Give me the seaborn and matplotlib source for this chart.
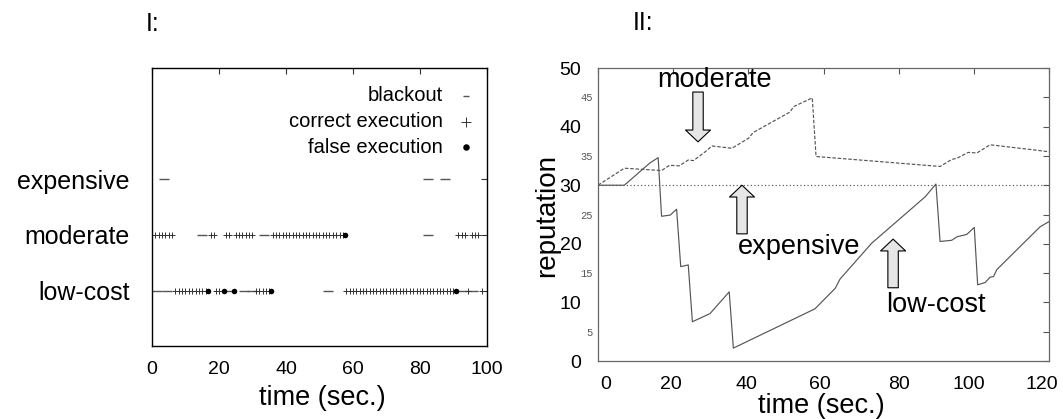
import matplotlib
matplotlib.use("Agg")
import matplotlib.pyplot as plt
import matplotlib.transforms as mtransforms
import numpy as np
import pandas as pd
import seaborn as sns
from matplotlib.ticker import FixedLocator, FixedFormatter

# ---- Panel I: service events per provider class (time in seconds) ----
classes = ["low-cost", "moderate", "expensive"]
class_pos = [1, 2, 3]

lowcost_blackout = [1.5, 4.5, 23.0, 27.5, 30.0, 52.5, 93.0, 96.0]
lowcost_correct = [7, 8, 9, 10, 11, 12, 13, 14, 15, 16, 19, 20,
                   31, 32, 33, 34, 35,
                   58, 59, 60, 61, 62, 63, 64, 65, 66, 67, 68, 69, 70, 71, 72,
                   73, 74, 75, 76, 77, 78, 79, 80, 81, 82, 83, 84, 85, 86, 87,
                   88, 89, 90, 94.5, 98.5]
lowcost_false = [16.8, 21.5, 24.6, 35.5, 90.7]

moderate_blackout = [14.8, 33.5, 82.5]
moderate_correct = [1, 2, 3, 4, 5, 6, 17.5, 18.5, 22, 23,
                    25, 26, 27, 28, 29, 30,
                    36, 37, 38, 39, 40, 41, 42, 43, 44, 45, 46, 47, 48, 49,
                    50, 51, 52, 53, 54, 55, 56, 57,
                    91.5, 92.5, 93.5, 95.5, 96.5, 97.5]
moderate_false = [57.7]

expensive_blackout = [3.5, 82.5, 87.5]
expensive_correct = []
expensive_false = []

# ---- Panel II: reputation over time ----
lowcost_t = [0, 7.0, 13.8, 16.0, 16.9, 19.2, 20.9, 22.0, 24.0, 25.1, 29.8,
             34.9, 36.0, 57.7, 63.1, 64.4, 72.8, 87.0, 89.9, 91.0, 94.1,
             95.5, 98.1, 100.1, 101.0, 103.0, 104.3, 105.2, 106.1, 117.6, 120]
lowcost_rep = [30, 30, 33.8, 34.7, 24.7, 24.9, 25.9, 16.1, 16.4, 6.7, 8.1,
               11.8, 2.2, 8.9, 12.4, 14.0, 20.1, 28.0, 30.2, 20.4, 20.6,
               21.2, 21.6, 22.8, 13.0, 13.4, 14.3, 14.4, 15.6, 22.9, 23.8]

moderate_t = [0, 7.0, 16.9, 19.0, 21.6, 24.0, 25.4, 28.5, 30.3, 35.6, 38.2,
              40.0, 41.3, 51.1, 52.0, 57.0, 58.0, 91.0, 94.1, 95.5, 98.5,
              100.8, 104.3, 117.6, 120]
moderate_rep = [30, 32.9, 32.5, 33.4, 33.3, 34.3, 34.2, 35.7, 36.7, 36.3, 37.3,
                38.0, 39.0, 42.5, 43.4, 44.9, 34.9, 33.2, 34.4, 34.6, 35.6,
                35.5, 36.9, 35.9, 35.7]

expensive_t = [0, 120]
expensive_rep = [30, 30]

# ---- styling ----
sns.set_theme(style="white")
plt.rcParams["font.family"] = ["Liberation Sans", "DejaVu Sans"]
plt.rcParams.update({"text.color": "black", "axes.labelcolor": "black",
                     "xtick.color": "black", "ytick.color": "black"})

fig = plt.figure(figsize=(10.63, 4.19), dpi=100)
ax1 = fig.add_axes([0.143, 0.174, 0.315, 0.663])
ax2 = fig.add_axes([0.5626, 0.1384, 0.4243, 0.6993])

# ---- Panel I ----
def events(times_by_class):
    rows = []
    for pos, times in zip(class_pos, times_by_class):
        rows += [(t, pos) for t in times]
    return pd.DataFrame(rows, columns=["time", "cls"])

ev_black = events([lowcost_blackout, moderate_blackout, expensive_blackout])
ev_ok = events([lowcost_correct, moderate_correct, expensive_correct])
ev_false = events([lowcost_false, moderate_false, expensive_false])

sns.scatterplot(data=ev_black, x="time", y="cls", marker="_", s=45,
                color="#555555", linewidth=1.0, ax=ax1, label="blackout")
sns.scatterplot(data=ev_ok, x="time", y="cls", marker="+", s=22,
                color="#333333", linewidth=0.7, ax=ax1,
                label="correct execution")
sns.scatterplot(data=ev_false, x="time", y="cls", marker="o", s=16,
                color="black", edgecolor="black", linewidth=0, ax=ax1,
                label="false execution", zorder=3)

ax1.set_xlim(0, 100)
ax1.set_ylim(0, 5)
ax1.set_xticks([0, 20, 40, 60, 80, 100])
ax1.set_yticks(class_pos)
ax1.set_yticklabels(classes, fontsize=18)
ax1.tick_params(direction="in", top=True, right=True, length=4, width=0.8,
                color="#333333")
ax1.tick_params(axis="x", labelsize=14, pad=11)
ax1.tick_params(axis="y", pad=16)
ax1.set_xlabel("time (sec.)", fontsize=19.5)
ax1.set_ylabel("")
ax1.xaxis.set_label_coords(0.51, -0.14)
for s in ax1.spines.values():
    s.set_color("black")
    s.set_linewidth(1.0)

leg = ax1.legend(markerfirst=False, frameon=False, loc="upper right",
                 bbox_to_anchor=(1.0, 0.978), borderaxespad=0.2,
                 fontsize=14.5, handletextpad=0.7, labelspacing=0.33,
                 handlelength=0.9)
for h, size in zip(leg.legend_handles, [22, 48, 22]):
    h.set_sizes([size])

# ---- Panel II ----
line_kw = dict(ax=ax2, color="#555555", linewidth=0.85, sort=False,
               estimator=None)
sns.lineplot(x=expensive_t, y=expensive_rep, linestyle=(0, (1, 2)), **line_kw)
sns.lineplot(x=moderate_t, y=moderate_rep, linestyle=(0, (3, 1.5)), **line_kw)
sns.lineplot(x=lowcost_t, y=lowcost_rep, linestyle="-", **line_kw)

ax2.set_xlim(0, 120)
ax2.set_ylim(0, 50)
ax2.set_xticks([0, 20, 40, 60, 80, 100, 120])
ax2.set_yticks([0, 10, 20, 30, 40, 50])
ax2.yaxis.set_minor_locator(FixedLocator([5, 15, 25, 35, 45]))
ax2.yaxis.set_minor_formatter(FixedFormatter(["5", "15", "25", "35", "45"]))
ax2.tick_params(direction="in", top=True, right=True, length=4, width=0.8,
                color="#555555", which="both")
ax2.tick_params(axis="x", labelsize=14, pad=11)
ax2.tick_params(axis="y", which="major", labelsize=14, pad=12)
ax2.tick_params(axis="y", which="minor", labelsize=7.5, labelcolor="#555555",
                pad=4)
for t in ax2.get_yticklabels(minor=True):
    t.set_family("Liberation Mono")
# small horizontal nudges of the time labels
for lbl, dx in zip(ax2.get_xticklabels(), [8, -2, -2, -4, 0, -5, -7]):
    lbl.set_transform(lbl.get_transform() +
                      mtransforms.ScaledTranslation(dx / 100, 0,
                                                    fig.dpi_scale_trans))
ax2.set_xlabel("time (sec.)", fontsize=19.5)
ax2.set_ylabel("reputation", fontsize=20)
ax2.xaxis.set_label_coords(0.494, -0.108)
ax2.yaxis.set_label_coords(-0.085, 0.498)
for s in ax2.spines.values():
    s.set_color("#666666")
    s.set_linewidth(0.9)

arrow_style = "simple,head_length=8.5,head_width=18,tail_width=7.5"
arrow_kw = dict(arrowstyle=arrow_style, mutation_scale=1, fc="#e6e6e6",
                ec="black", lw=0.8, shrinkA=0, shrinkB=0)

ax2.text(31.1, 47.9, "moderate", fontsize=19.5, ha="center", va="center")
ax2.annotate("", xy=(26.6, 37.4), xytext=(26.6, 45.9), arrowprops=arrow_kw)
ax2.text(53.5, 19.5, "expensive", fontsize=19.5, ha="center", va="center")
ax2.annotate("", xy=(38.3, 30.0), xytext=(38.3, 21.7), arrowprops=arrow_kw)
ax2.text(89.9, 9.6, "low-cost", fontsize=19.5, ha="center", va="center")
ax2.annotate("", xy=(78.5, 20.8), xytext=(78.5, 12.5), arrowprops=arrow_kw)

fig.text(0.137, 0.943, "I:", fontsize=18, va="center")
fig.text(0.595, 0.945, "II:", fontsize=18, va="center")

fig.savefig("out.png", dpi=100)
